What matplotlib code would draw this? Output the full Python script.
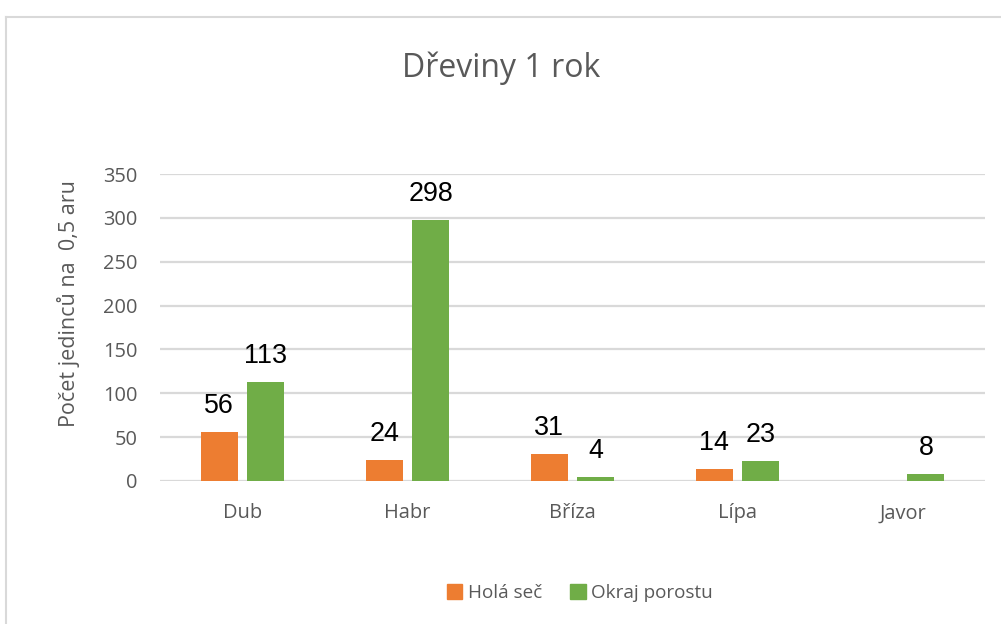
import matplotlib
matplotlib.use("Agg")
import matplotlib.pyplot as plt
from matplotlib.patches import Patch
from matplotlib.lines import Line2D
import numpy as np

categories = ["Dub", "Habr", "Bříza", "Lípa", "Javor"]
hola_sec = [56, 24, 31, 14, None]
okraj_porostu = [113, 298, 4, 23, 8]
series_names = ["Holá seč", "Okraj porostu"]
yticks = [0, 50, 100, 150, 200, 250, 300, 350]

ORANGE = "#ED7D31"
GREEN = "#70AD47"
GRAY = "#595959"
GRID = "#D9D9D9"

fig = plt.figure(figsize=(10.01, 6.24), dpi=100)
ax = fig.add_axes([160/1001, 1-481/624, 825/1001, 307/624])

x = np.arange(len(categories))
w = 0.224
off = 0.142

def vals(lst):
    return np.array([np.nan if v is None else v for v in lst], dtype=float)

h = vals(hola_sec)
o = vals(okraj_porostu)
ax.bar(x - off, np.nan_to_num(h), w, color=ORANGE, zorder=3)
ax.bar(x + off, o, w, color=GREEN, zorder=3)

for xs, vs in ((x - off, h), (x + off, o)):
    for xi, v in zip(xs, vs):
        if not np.isnan(v):
            ax.annotate(f"{int(v)}", (xi, v), xytext=(0, 13), textcoords="offset pixels",
                        ha="center", va="bottom", fontsize=19.4, family="Liberation Sans",
                        color="black")

ax.set_xlim(-0.5, len(categories) - 0.5)
ax.set_ylim(0, 350)
ax.set_yticks(yticks)
ax.set_xticks(x)
ax.set_xticklabels(categories)
ax.yaxis.grid(True, color=GRID, linewidth=1.6, zorder=0)
ax.set_axisbelow(True)
for s in ax.spines.values():
    s.set_visible(False)
ax.tick_params(axis="both", length=0, labelsize=14.4, labelcolor=GRAY)
ax.tick_params(axis="x", pad=16)
ax.tick_params(axis="y", pad=16)
for lab in ax.get_xticklabels() + ax.get_yticklabels():
    lab.set_family("Open Sans")

fig.text(68/1001, 1-303.5/624, "Počet jedinců na  0,5 aru", rotation=90,
         ha="center", va="center", fontsize=15.5, color=GRAY, family="Open Sans")

fig.text(501.5/1001, 1-68/624, "Dřeviny 1 rok", ha="center", va="center",
         fontsize=23, color=GRAY, family="Open Sans")

handles = [Patch(color=ORANGE, label=series_names[0]), Patch(color=GREEN, label=series_names[1])]
fig.legend(handles=handles, loc="center", bbox_to_anchor=(580/1001, 1-593/624), ncol=2,
           frameon=False, prop={"family": "Open Sans", "size": 13.6}, labelcolor=GRAY,
           handlelength=0.8, handleheight=0.8, handletextpad=0.3, columnspacing=1.5)

# chart border (left and top edges visible)
fig.add_artist(Line2D([5.5/1001, 5.5/1001], [0, 1-16.5/624], transform=fig.transFigure,
                      color=GRID, linewidth=1.5))
fig.add_artist(Line2D([5.5/1001, 1], [1-16.5/624, 1-16.5/624], transform=fig.transFigure,
                      color=GRID, linewidth=1.5))

fig.savefig("out.png", dpi=100)
